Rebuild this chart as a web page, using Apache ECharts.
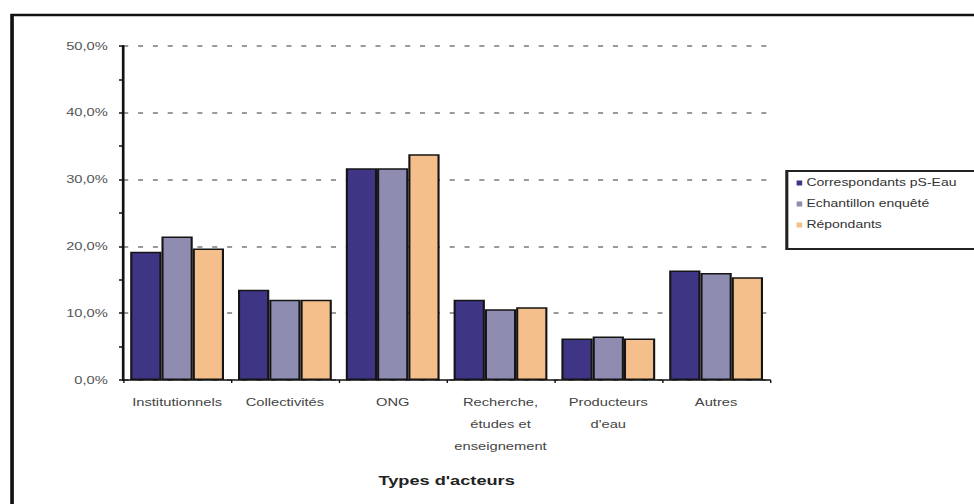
<!DOCTYPE html>
<html>
<head>
<meta charset="utf-8">
<script src="https://cdn.jsdelivr.net/npm/echarts@6/dist/echarts.min.js"></script>
<style>
html,body{margin:0;padding:0;background:#fff;overflow:hidden;width:974px;height:504px;}
#chart{width:696px;height:504px;transform:scaleX(1.4);transform-origin:0 0;}
</style>
</head>
<body>
<div id="chart"></div>
<script>
const categories = ['Institutionnels', 'Collectivités', 'ONG', 'Recherche,\nétudes et\nenseignement', 'Producteurs\nd\'eau', 'Autres'];
const seriesNames = ['Correspondants pS-Eau', 'Echantillon enquêté', 'Répondants'];
const correspondants = [19.2, 13.5, 31.7, 12.0, 6.2, 16.4];
const echantillon = [21.5, 12.0, 31.7, 10.6, 6.5, 16.0];
const repondants = [19.7, 12.0, 33.8, 10.9, 6.2, 15.4];
const yTicks = [0, 10, 20, 30, 40, 50];
const colors = ['#3f3585', '#8f8cb2', '#f4bf8b'];

const chart = echarts.init(document.getElementById('chart'), null, { renderer: 'svg' });
const barStyle = (c) => ({ color: c, borderColor: '#141414', borderWidth: 1.5 });
chart.setOption({
  animation: false,
  backgroundColor: '#fff',
  textStyle: { fontFamily: 'Liberation Sans, Arial, sans-serif' },
  graphic: [
    { type: 'rect', shape: { x: 8.6, y: 15, width: 800, height: 600 }, style: { fill: 'none', stroke: '#111', lineWidth: 2.6 }, z: 10 },
    { type: 'rect', shape: { x: 562, y: 171, width: 200, height: 78 }, style: { fill: '#fff', stroke: '#222', lineWidth: 2.2 }, z: 1 }
  ],
  legend: {
    orient: 'vertical',
    left: 564,
    top: 173,
    itemWidth: 4,
    itemHeight: 5,
    itemGap: 11,
    icon: 'rect',
    z: 5,
    itemStyle: { borderWidth: 0 },
    textStyle: { fontSize: 10, color: '#333', padding: [0, 0, 0, -2] },
    data: seriesNames
  },
  grid: { left: 88, right: 146, top: 46, bottom: 124 },
  xAxis: {
    type: 'category',
    data: categories,
    name: 'Types d\'acteurs',
    nameLocation: 'middle',
    nameGap: 94,
    nameTextStyle: { fontSize: 13, fontWeight: 'bold', color: '#222' },
    axisLine: { lineStyle: { color: '#111', width: 1.5 } },
    axisTick: { show: true, length: 3, lineStyle: { color: '#111' } },
    axisLabel: { fontSize: 10.5, color: '#444', lineHeight: 22, margin: 11, interval: 0 }
  },
  yAxis: {
    type: 'value',
    min: 0,
    max: 50,
    interval: 10,
    axisLine: { show: true, lineStyle: { color: '#111', width: 1.9 } },
    axisTick: { show: true, length: 3, lineStyle: { color: '#111', width: 1.5 } },
    minorTick: { show: true, splitNumber: 2, length: 3, lineStyle: { color: '#111', width: 1.5 } },
    axisLabel: {
      fontSize: 10.5, color: '#555', margin: 11,
      formatter: (v) => yTicks.includes(v) ? v.toFixed(1).replace('.', ',') + '%' : ''
    },
    splitLine: { show: true, lineStyle: { color: '#9a9a9a', width: 2, type: [3.6, 7] } }
  },
  series: [
    { name: seriesNames[0], type: 'bar', data: correspondants, barGap: '0%', barCategoryGap: '13%', itemStyle: barStyle(colors[0]) },
    { name: seriesNames[1], type: 'bar', data: echantillon, barGap: '0%', barCategoryGap: '13%', itemStyle: barStyle(colors[1]) },
    { name: seriesNames[2], type: 'bar', data: repondants, barGap: '0%', barCategoryGap: '13%', itemStyle: barStyle(colors[2]) }
  ]
});
</script>
</body>
</html>
